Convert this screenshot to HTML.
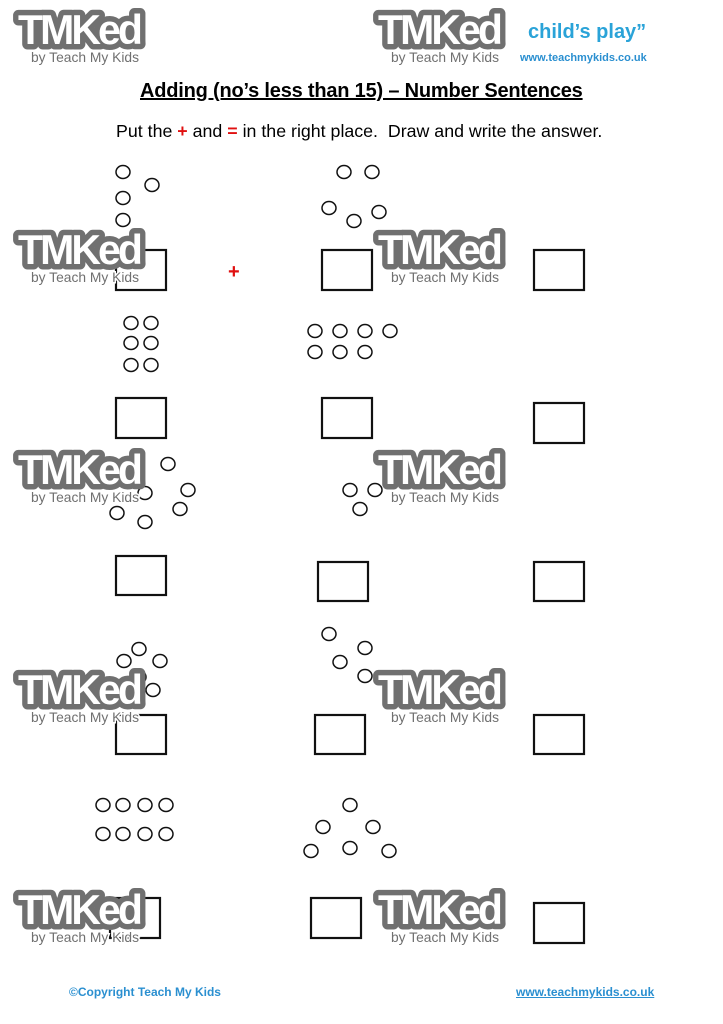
<!DOCTYPE html>
<html><head><meta charset="utf-8"><style>
body{margin:0;width:723px;height:1024px;background:#fff;position:relative;overflow:hidden;font-family:"Liberation Sans",sans-serif}
.t{position:absolute;white-space:nowrap}
</style></head><body>
<div class="t" style="left:528px;top:21px;font-size:20px;font-weight:bold;color:#2aa3d8">child’s play”</div>
<div class="t" style="left:520px;top:52px;font-size:11px;font-weight:bold;color:#2a8fd0">www.teachmykids.co.uk</div>
<div class="t" style="left:140px;top:80px;font-size:20px;font-weight:bold;text-decoration:underline;letter-spacing:-0.2px">Adding (no’s less than 15) – Number Sentences</div>
<div class="t" style="left:116px;top:121px;font-size:17.8px">Put the <b style="color:#e01010">+</b> and <b style="color:#e01010">=</b> in the right place.&nbsp; Draw and write the answer.</div>
<div class="t" style="left:228px;top:261px;font-size:20px;font-weight:bold;color:#e01010">+</div>
<svg width="723" height="1024" style="position:absolute;left:0;top:0" fill="none" stroke="#111" stroke-width="2">
<g stroke-width="2.2">
<rect x="116" y="250" width="50" height="40"/><rect x="322" y="250" width="50" height="40"/><rect x="534" y="250" width="50" height="40"/>
<rect x="116" y="398" width="50" height="40"/><rect x="322" y="398" width="50" height="40"/><rect x="534" y="403" width="50" height="40"/>
<rect x="116" y="556" width="50" height="39"/><rect x="318" y="562" width="50" height="39"/><rect x="534" y="562" width="50" height="39"/>
<rect x="116" y="715" width="50" height="39"/><rect x="315" y="715" width="50" height="39"/><rect x="534" y="715" width="50" height="39"/>
<rect x="110" y="898" width="50" height="40"/><rect x="311" y="898" width="50" height="40"/><rect x="534" y="903" width="50" height="40"/>
</g>
<g stroke-width="1.5">
<ellipse cx="123" cy="172" rx="7" ry="6.5"/><ellipse cx="152" cy="185" rx="7" ry="6.5"/><ellipse cx="123" cy="198" rx="7" ry="6.5"/><ellipse cx="123" cy="220" rx="7" ry="6.5"/>
<ellipse cx="344" cy="172" rx="7" ry="6.5"/><ellipse cx="372" cy="172" rx="7" ry="6.5"/><ellipse cx="329" cy="208" rx="7" ry="6.5"/><ellipse cx="354" cy="221" rx="7" ry="6.5"/><ellipse cx="379" cy="212" rx="7" ry="6.5"/>
<ellipse cx="131" cy="323" rx="7" ry="6.5"/><ellipse cx="151" cy="323" rx="7" ry="6.5"/><ellipse cx="131" cy="343" rx="7" ry="6.5"/><ellipse cx="151" cy="343" rx="7" ry="6.5"/><ellipse cx="131" cy="365" rx="7" ry="6.5"/><ellipse cx="151" cy="365" rx="7" ry="6.5"/>
<ellipse cx="315" cy="331" rx="7" ry="6.5"/><ellipse cx="340" cy="331" rx="7" ry="6.5"/><ellipse cx="365" cy="331" rx="7" ry="6.5"/><ellipse cx="390" cy="331" rx="7" ry="6.5"/><ellipse cx="315" cy="352" rx="7" ry="6.5"/><ellipse cx="340" cy="352" rx="7" ry="6.5"/><ellipse cx="365" cy="352" rx="7" ry="6.5"/>
<ellipse cx="168" cy="464" rx="7" ry="6.5"/><ellipse cx="145" cy="493" rx="7" ry="6.5"/><ellipse cx="188" cy="490" rx="7" ry="6.5"/><ellipse cx="180" cy="509" rx="7" ry="6.5"/><ellipse cx="117" cy="513" rx="7" ry="6.5"/><ellipse cx="145" cy="522" rx="7" ry="6.5"/><ellipse cx="125" cy="474" rx="7" ry="6.5"/>
<ellipse cx="350" cy="490" rx="7" ry="6.5"/><ellipse cx="375" cy="490" rx="7" ry="6.5"/><ellipse cx="360" cy="509" rx="7" ry="6.5"/>
<ellipse cx="139" cy="649" rx="7" ry="6.5"/><ellipse cx="160" cy="661" rx="7" ry="6.5"/><ellipse cx="124" cy="661" rx="7" ry="6.5"/><ellipse cx="139" cy="677" rx="7" ry="6.5"/><ellipse cx="124" cy="690" rx="7" ry="6.5"/><ellipse cx="153" cy="690" rx="7" ry="6.5"/>
<ellipse cx="329" cy="634" rx="7" ry="6.5"/><ellipse cx="365" cy="648" rx="7" ry="6.5"/><ellipse cx="340" cy="662" rx="7" ry="6.5"/><ellipse cx="365" cy="676" rx="7" ry="6.5"/>
<ellipse cx="103" cy="805" rx="7" ry="6.5"/><ellipse cx="123" cy="805" rx="7" ry="6.5"/><ellipse cx="145" cy="805" rx="7" ry="6.5"/><ellipse cx="166" cy="805" rx="7" ry="6.5"/>
<ellipse cx="103" cy="834" rx="7" ry="6.5"/><ellipse cx="123" cy="834" rx="7" ry="6.5"/><ellipse cx="145" cy="834" rx="7" ry="6.5"/><ellipse cx="166" cy="834" rx="7" ry="6.5"/>
<ellipse cx="350" cy="805" rx="7" ry="6.5"/><ellipse cx="323" cy="827" rx="7" ry="6.5"/><ellipse cx="373" cy="827" rx="7" ry="6.5"/><ellipse cx="311" cy="851" rx="7" ry="6.5"/><ellipse cx="350" cy="848" rx="7" ry="6.5"/><ellipse cx="389" cy="851" rx="7" ry="6.5"/>
</g>
<g font-family="Liberation Sans, sans-serif" font-weight="bold" stroke="none">
<g id="w">
<text x="18" y="44" font-size="42" fill="#fff" stroke="#707070" stroke-width="11" paint-order="stroke" stroke-linejoin="round" letter-spacing="-3" textLength="122" lengthAdjust="spacingAndGlyphs">TMKed</text>
<text x="31" y="62" font-size="14" fill="#707070" stroke="#fff" stroke-width="3" paint-order="stroke" font-weight="normal" textLength="108" lengthAdjust="spacingAndGlyphs">by Teach My Kids</text>
</g>
<use href="#w" x="360" y="0"/>
<use href="#w" x="0" y="220"/><use href="#w" x="360" y="220"/>
<use href="#w" x="0" y="440"/><use href="#w" x="360" y="440"/>
<use href="#w" x="0" y="660"/><use href="#w" x="360" y="660"/>
<use href="#w" x="0" y="880"/><use href="#w" x="360" y="880"/>
</g>
</svg>
<div class="t" style="left:69px;top:985px;font-size:12px;font-weight:bold;color:#2a8fd0">©Copyright Teach My Kids</div>
<div class="t" style="left:516px;top:985px;font-size:12px;font-weight:bold;color:#2a8fd0;text-decoration:underline">www.teachmykids.co.uk</div>
</body></html>
